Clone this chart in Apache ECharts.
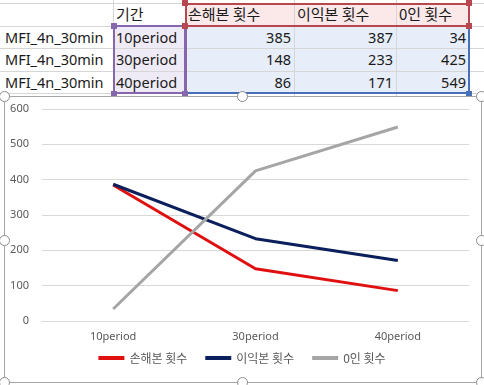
<!DOCTYPE html>
<html><head><meta charset="utf-8">
<script src="https://cdn.jsdelivr.net/npm/echarts@6/dist/echarts.min.js"></script>
<style>
html,body{margin:0;padding:0;width:484px;height:385px;overflow:hidden;background:#fff;font-family:"Noto Sans","Noto Sans CJK KR",sans-serif;}
.abs{position:absolute;box-sizing:border-box;}
.cell{position:absolute;font-size:14.5px;color:#1a1a1a;line-height:22px;white-space:nowrap;}
.kr{font-family:"Noto Sans CJK KR",sans-serif;font-size:15px;}
.handle{position:absolute;width:11px;height:11px;border:1.5px solid #8c8c8c;border-radius:50%;background:#fff;box-sizing:border-box;}
.sq{position:absolute;width:6px;height:6px;}
</style></head>
<body>
<div id="sheet" class="abs" style="left:0;top:0;width:484px;height:96px;"></div>
<div class="abs" style="left:4px;top:96px;width:478px;height:287px;border:1px solid #a6a6a6;background:#fff;"></div>
<div id="chart" class="abs" style="left:0;top:0;width:484px;height:385px;"></div>
<div id="handles"></div>
<script>
var rowLabel = 'MFI_4n_30min';
var catHeader = '기간';
var categories = ['10period', '30period', '40period'];
var seriesNames = ['손해본 횟수', '이익본 횟수', '0인 횟수'];
var lossCounts = [385, 148, 86];
var profitCounts = [387, 233, 171];
var zeroCounts = [34, 425, 549];
var yTicks = [0, 100, 200, 300, 400, 500, 600];

// ---- spreadsheet ----
var sheet = document.getElementById('sheet');
var colX = [0, 113, 185, 294, 396, 469, 484];
var rowY = [3, 26, 48, 71, 93];
function add(html){ sheet.insertAdjacentHTML('beforeend', html); }
add('<div class="abs" style="left:185px;top:3px;width:284px;height:23px;background:#fbe8e9;"></div>');
add('<div class="abs" style="left:113px;top:26px;width:72px;height:67px;background:#eeeaf6;"></div>');
add('<div class="abs" style="left:185px;top:26px;width:284px;height:67px;background:#e7eef9;"></div>');
for (var i=1;i<colX.length-1;i++) add('<div class="abs" style="left:'+colX[i]+'px;top:0;width:1px;height:96px;background:#d6d6d6;"></div>');
for (var j=0;j<rowY.length;j++) add('<div class="abs" style="left:0;top:'+rowY[j]+'px;width:484px;height:1px;background:#d6d6d6;"></div>');
add('<div class="abs" style="left:185px;top:3px;width:285px;height:24px;border:2px solid #b8474f;"></div>');
add('<div class="abs" style="left:113px;top:25px;width:73px;height:69px;border:2px solid #8666ad;"></div>');
add('<div class="abs" style="left:185px;top:25px;width:285px;height:69px;border-left:2px solid #8666ad;border-right:2px solid #4770b8;border-bottom:2px solid #4770b8;border-top:2px solid #b8474f;"></div>');
[[182,0,'#b8474f'],[466,0,'#b8474f'],[466,23,'#b8474f'],[182,23,'#b8474f'],[111,23,'#8666ad'],[111,91,'#8666ad'],[182,91,'#8666ad'],[466,91,'#4770b8']].forEach(function(s){
  add('<div class="sq" style="left:'+s[0]+'px;top:'+s[1]+'px;background:'+s[2]+';"></div>');
});
add('<div class="cell kr" style="left:116px;top:3px;">'+catHeader+'</div>');
for (var k=0;k<3;k++) add('<div class="cell kr" style="left:'+(colX[2+k]+3)+'px;top:3px;">'+seriesNames[k]+'</div>');
var cols = [lossCounts, profitCounts, zeroCounts];
for (var r=0;r<3;r++){
  var rowTop = rowY[r+1];
  add('<div class="cell" style="left:5px;top:'+rowTop+'px;">'+rowLabel+'</div>');
  add('<div class="cell" style="left:116px;top:'+rowTop+'px;">'+categories[r]+'</div>');
  for (var c=0;c<3;c++){
    add('<div class="cell" style="right:'+(484-colX[3+c]+3)+'px;top:'+rowTop+'px;">'+cols[c][r]+'</div>');
  }
}
var hs = document.getElementById('handles');
[[4,96],[242,96],[481,96],[4,240],[481,240],[4,382],[242,382],[481,382]].forEach(function(p){
  hs.insertAdjacentHTML('beforeend','<div class="handle" style="left:'+(p[0]-5.5)+'px;top:'+(p[1]-5.5)+'px;"></div>');
});

// ---- chart ----
var chart = echarts.init(document.getElementById('chart'), null, {renderer:'canvas'});
var txt = {color:'#595959', fontSize:11, fontFamily:'"Noto Sans","Noto Sans CJK KR",sans-serif'};
chart.setOption({
  animation:false,
  backgroundColor:'transparent',
  grid:{left:42, right:15, top:109, bottom:64},
  xAxis:{type:'category', data:categories, boundaryGap:true,
    axisLine:{show:true, lineStyle:{color:'#d9d9d9'}}, axisTick:{show:false},
    axisLabel:Object.assign({margin:10}, txt)},
  yAxis:{type:'value', min:yTicks[0], max:yTicks[yTicks.length-1], interval:100,
    axisLine:{show:false}, axisTick:{show:false},
    splitLine:{lineStyle:{color:'#d9d9d9'}},
    axisLabel:Object.assign({margin:13}, txt)},
  legend:{bottom:16, left:'center', itemWidth:26, itemHeight:4, itemGap:18,
    icon:'rect',
    textStyle:{color:'#595959', fontSize:12, fontFamily:'"Noto Sans CJK KR",sans-serif'},
    data:seriesNames},
  series:[
    {name:seriesNames[0], type:'line', data:lossCounts, symbol:'none', lineStyle:{color:'#e01010', width:3}, itemStyle:{color:'#e01010'}},
    {name:seriesNames[1], type:'line', data:profitCounts, symbol:'none', lineStyle:{color:'#0b1f5c', width:3}, itemStyle:{color:'#0b1f5c'}},
    {name:seriesNames[2], type:'line', data:zeroCounts, symbol:'none', lineStyle:{color:'#a5a5a5', width:3}, itemStyle:{color:'#a5a5a5'}}
  ]
});
</script>
</body></html>
